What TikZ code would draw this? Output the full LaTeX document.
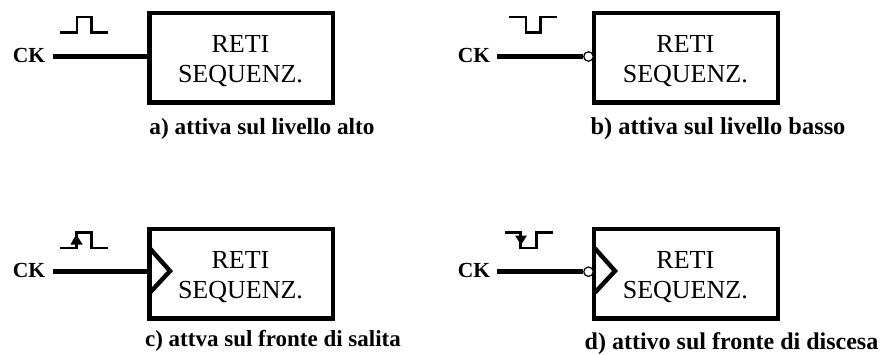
\documentclass[tikz,border=0pt]{standalone}
\usepackage{fontspec}
\setmainfont{Liberation Serif}
\tikzset{
 x=1pt,y=-1pt,
 blockbox/.style={draw,line width=4.4pt,minimum width=183.6pt,minimum height=89.5pt,inner sep=0pt},
 blocktext/.style={inner sep=0pt,align=center,font=\fontsize{26}{30.5}\selectfont},
 wire/.style={line width=4.6pt},
 wave/.style={line width=2.5pt},
 lab/.style={font=\fontsize{#1}{28}\selectfont\bfseries,inner sep=0pt},
 cklab/.style={font=\fontsize{21.5}{26}\selectfont\bfseries,inner sep=0pt},
 bubble/.style={circle,draw,fill=white,line width=1.2pt,minimum size=9.5pt,inner sep=0pt},
 clocktri/.style={line width=4.4pt,line join=miter},
 edgetip/.style={fill=black,draw=none}
}
\begin{document}
\begin{tikzpicture}
\useasboundingbox (0,0) rectangle (881,354);
\fill[white] (0,0) rectangle (881,354);
% a
\node[blockbox] (A) at (241.2,57.8) {};
\node[blocktext] (Atxt) at (240.5,61.2) {RETI\\SEQUENZ.};
\node[cklab] (ckA) at (29,55) {CK};
\coordinate (Ain) at (52.7,56.5);
\draw[wire] (Ain) -- (A.west |- Ain);
\draw[wave] (60,32.3)--(77,32.3)--(77,17)--(91.7,17)--(91.7,32.3)--(108.3,32.3);
\node[lab=23.3] (ta) at (262,128.5) {a) attiva sul livello alto};
% b
\node[blockbox] (B) at (686,57.8) {};
\node[blocktext] (Btxt) at (685.3,61.2) {RETI\\SEQUENZ.};
\node[cklab] (ckB) at (474,55) {CK};
\node[bubble] (bB) at (588.5,56.5) {};
\coordinate (Bin) at (497,56.5);
\draw[wire] (Bin) -- (bB.west);
\draw[wave] (509,17)--(526,17)--(526,32.5)--(540.7,32.5)--(540.7,17)--(557,17);
\node[lab=24.4] (tb) at (718,128.5) {b) attiva sul livello basso};
% c
\node[blockbox] (C) at (241.2,273.7) {};
\node[blocktext] (Ctxt) at (240.5,277.1) {RETI\\SEQUENZ.};
\node[cklab] (ckC) at (29,270) {CK};
\coordinate (Cin) at (52.7,271.7);
\draw[wire] (Cin) -- (C.west |- Cin);
\draw[clocktri] (150,248.5)--(170,271)--(150,292.5);
\draw[wave] (60,248)--(76.7,248)--(76.7,232.3)--(91.7,232.3)--(91.7,248)--(108.3,248);
\fill[edgetip] (76.2,234.5)--(70.5,244.5)--(82.7,244.5)--cycle;
\node[lab=23] (tc) at (273,341) {c) attva sul fronte di salita};
% d
\node[blockbox] (D) at (686,273.7) {};
\node[blocktext] (Dtxt) at (685.3,277.1) {RETI\\SEQUENZ.};
\node[cklab] (ckD) at (474,270) {CK};
\node[bubble] (bD) at (588.5,271.7) {};
\coordinate (Din) at (497,271.7);
\draw[wire] (Din) -- (bD.west);
\draw[clocktri] (595,248.5)--(615,271)--(595,292.5);
\draw[wave] (505,232.3)--(520.7,232.3)--(520.7,248)--(536.7,248)--(536.7,232.3)--(552.7,232.3);
\fill[edgetip] (521,245)--(515,235.5)--(527,235.5)--cycle;
\node[lab=24] (td) at (731.5,343.5) {d) attivo sul fronte di discesa};
\end{tikzpicture}
\end{document}
